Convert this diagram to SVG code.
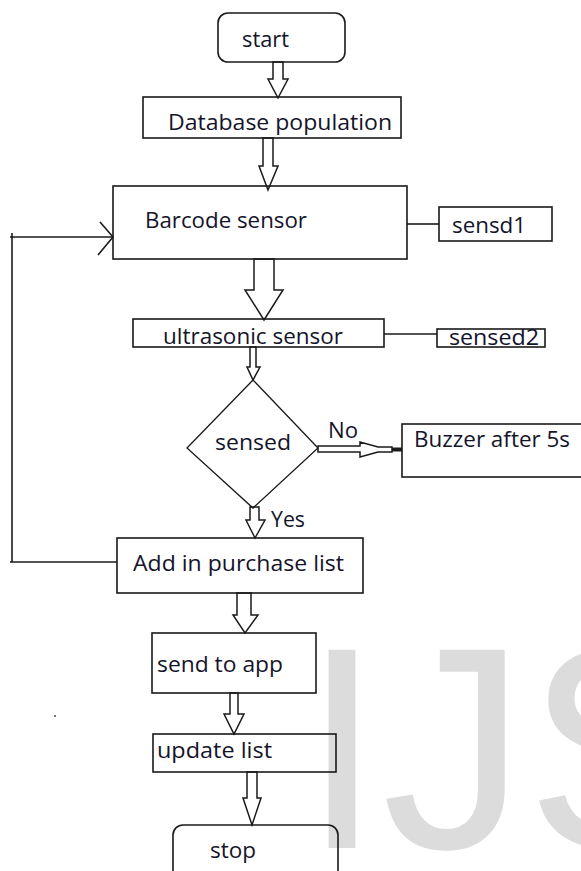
<svg xmlns="http://www.w3.org/2000/svg" width="581" height="871" viewBox="0 0 581 871">
<style>
  .box{fill:none;stroke:#1a1a1a;stroke-width:1.6}
  .dia{fill:none;stroke:#1a1a1a;stroke-width:1.3}
  .arr{fill:#fff;stroke:#1a1a1a;stroke-width:1.5;stroke-linejoin:miter}
  .ln{fill:none;stroke:#1a1a1a;stroke-width:1.6}
  .t{font-family:"Open Sans","Liberation Sans",sans-serif;font-size:21px;fill:#14142a}
  .wm{font-family:"Liberation Sans",Arial,sans-serif;font-size:288px;fill:#dcdcdc}
</style>
<rect width="581" height="871" fill="#fff"/>
<text class="wm" x="302" y="848">IJS</text>
<circle cx="55" cy="716" r="0.9" fill="#333"/>

<g id="connectors">
  <polygon class="arr" points="273,62 273,79 268,79 278,98 288,79 283,79 283,62"/>
  <polygon class="arr" points="263,138 263,166 259,166 268,190 278,166 273,166 273,138"/>
  <polygon class="arr" points="254,259 254,290 245,290 264,320 283,290 274,290 274,259"/>
  <polygon class="arr" points="250,347 250,367 247,367 253,380 260,367 256,367 256,347"/>
  <polygon class="arr" points="250,507 250,520 246,520 255,538 265,520 259,520 259,507"/>
  <polygon class="arr" points="237,593 237,615 233,615 245,633 258,615 251,615 251,593"/>
  <polygon class="arr" points="230,693 230,714 224,714 234,734 244,714 238,714 238,693"/>
  <polygon class="arr" points="247,772 247,798 243,798 252,825 261,798 257,798 257,772"/>
  <polygon class="arr" points="318,446 360,446 360,442 378,447 392,447 392,452 378,452 360,457 360,452 318,452"/>
  <rect x="392" y="447.5" width="10" height="4" fill="#1a1a1a"/>
  <line class="ln" x1="407" y1="224" x2="439" y2="224"/>
  <line class="ln" x1="384" y1="334" x2="437" y2="334"/>
  <polyline class="ln" points="117,562 10,562"/>
  <line class="ln" x1="12" y1="233" x2="12" y2="562"/>
  <line class="ln" x1="10" y1="237" x2="113" y2="237"/>
  <polyline class="ln" points="100,222 113,237 98,255"/>
  <text class="t" x="328" y="438" textLength="30" lengthAdjust="spacingAndGlyphs">No</text>
  <text class="t" x="271" y="527" textLength="34" lengthAdjust="spacingAndGlyphs">Yes</text>
</g>

<g id="start">
  <rect class="box" x="218" y="13" width="127" height="49" rx="10"/>
  <text class="t" x="242" y="47" textLength="47" lengthAdjust="spacingAndGlyphs">start</text>
</g>
<g id="database">
  <rect class="box" x="143" y="97" width="258" height="41"/>
  <text class="t" x="168" y="130" textLength="224" lengthAdjust="spacingAndGlyphs">Database population</text>
</g>
<g id="barcode">
  <rect class="box" x="113" y="186" width="294" height="73"/>
  <text class="t" x="145" y="228" textLength="162" lengthAdjust="spacingAndGlyphs">Barcode sensor</text>
</g>
<g id="sensd1">
  <rect class="box" x="439" y="207" width="113" height="34"/>
  <text class="t" x="452" y="233" textLength="74" lengthAdjust="spacingAndGlyphs">sensd1</text>
</g>
<g id="ultrasonic">
  <rect class="box" x="133" y="319" width="251" height="28"/>
  <text class="t" x="163" y="344" textLength="180" lengthAdjust="spacingAndGlyphs">ultrasonic sensor</text>
</g>
<g id="sensed2">
  <rect class="box" x="437" y="329" width="108" height="18"/>
  <text class="t" x="449" y="345" textLength="90" lengthAdjust="spacingAndGlyphs">sensed2</text>
</g>
<g id="sensed">
  <polygon class="dia" points="253,380 318,448 253,508 187,448"/>
  <text class="t" x="215" y="450" textLength="76" lengthAdjust="spacingAndGlyphs">sensed</text>
</g>
<g id="buzzer">
  <rect class="box" x="402" y="424" width="185" height="53"/>
  <text class="t" x="414" y="447" textLength="156" lengthAdjust="spacingAndGlyphs">Buzzer after 5s</text>
</g>
<g id="purchase">
  <rect class="box" x="117" y="538" width="246" height="55"/>
  <text class="t" x="133" y="571" textLength="211" lengthAdjust="spacingAndGlyphs">Add in purchase list</text>
</g>
<g id="sendapp">
  <rect class="box" x="152" y="633" width="164" height="60"/>
  <text class="t" x="157" y="672" textLength="126" lengthAdjust="spacingAndGlyphs">send to app</text>
</g>
<g id="update">
  <rect class="box" x="153" y="734" width="183" height="38"/>
  <text class="t" x="157" y="758" textLength="115" lengthAdjust="spacingAndGlyphs">update list</text>
</g>
<g id="stop">
  <rect class="box" x="173" y="825" width="165" height="60" rx="10"/>
  <text class="t" x="210" y="858" textLength="46" lengthAdjust="spacingAndGlyphs">stop</text>
</g>
</svg>
